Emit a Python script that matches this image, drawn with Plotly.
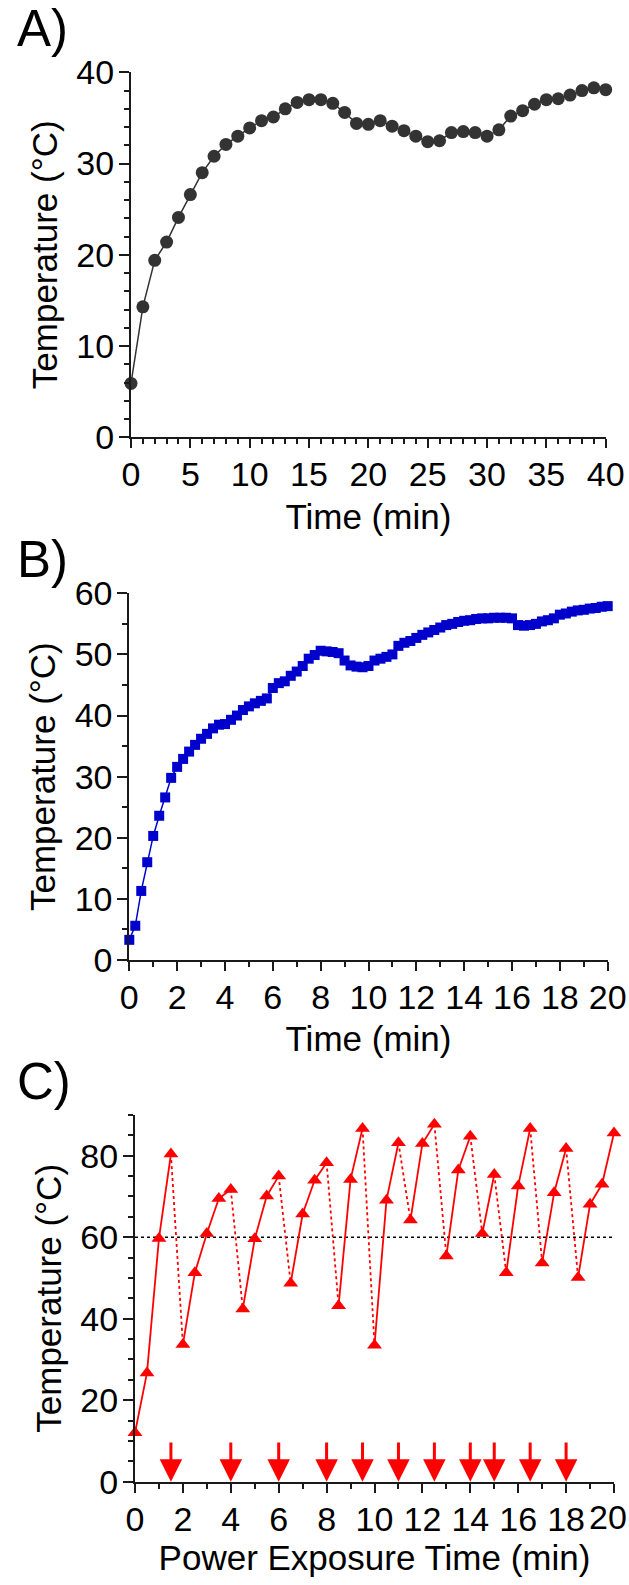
import plotly.graph_objects as go

# ---------------- Data ----------------
# Panel A: 1-min sampling, 0..40 min
a_time = list(range(0, 41))
a_temp = [5.9, 14.3, 19.4, 21.4, 24.1, 26.6, 29.0, 30.8, 32.1, 33.0,
          33.9, 34.7, 35.1, 36.0, 36.7, 37.0, 37.0, 36.6, 35.6, 34.4,
          34.3, 34.7, 34.1, 33.6, 33.0, 32.4, 32.5, 33.4, 33.5, 33.4,
          33.0, 33.7, 35.2, 35.8, 36.5, 37.0, 37.1, 37.5, 38.0, 38.3, 38.1]

# Panel B: 0.25-min sampling, 0..20 min
b_time = [i * 0.25 for i in range(81)]
b_temp = [3.3, 5.6, 11.3, 16.0, 20.3, 23.6, 26.6, 29.8, 31.6, 32.9,
          34.1, 35.2, 36.2, 37.0, 37.9, 38.5, 38.6, 39.3, 40.0, 40.9,
          41.5, 42.0, 42.4, 42.8, 44.5, 45.3, 45.6, 46.5, 47.2, 48.1,
          49.3, 49.9, 50.6, 50.5, 50.4, 50.2, 49.0, 48.2, 48.0, 47.9,
          48.1, 49.0, 49.3, 49.6, 50.0, 51.4, 51.9, 52.2, 52.7, 53.2,
          53.6, 54.0, 54.4, 54.8, 55.0, 55.3, 55.5, 55.6, 55.8, 55.9,
          55.9, 56.0, 56.0, 56.0, 55.9, 54.8, 54.7, 54.8, 55.0, 55.4,
          55.6, 55.9, 56.5, 56.7, 57.0, 57.2, 57.3, 57.5, 57.6, 57.8, 57.9]

# Panel C: 0.5-min sampling, 0..20 min
c_time = [i * 0.5 for i in range(41)]
c_temp = [12.0, 26.7, 59.7, 80.4, 33.7, 51.3, 60.9, 69.5, 71.7, 42.4,
          59.6, 70.1, 75.0, 48.7, 65.7, 74.0, 78.3, 43.2, 74.2, 86.7,
          33.5, 69.1, 83.2, 64.2, 83.0, 87.7, 55.4, 76.5, 84.8, 60.9,
          75.4, 51.3, 72.6, 86.7, 53.7, 70.9, 81.8, 50.1, 68.1, 73.0, 85.6]
power_off_times = [1.5, 4, 6, 8, 9.5, 11, 12.5, 14, 15, 16.5, 18]
threshold = 60
arrow_top = 10
c_xticks = [0, 2, 4, 6, 8, 10, 12, 14, 16, 18]
c_last_tick = 20

# ---------------- Styling ----------------
FONT = "Liberation Sans, Arial, sans-serif"
AX = "#1a1a1a"
W, H = 629, 1585
ML, MR = 129, 15
PW = W - ML - MR

def xd(px0, px1):
    return [(px0 - ML) / PW, (px1 - ML) / PW]

def yd(top_px, bot_px):
    return [1 - bot_px / H, 1 - top_px / H]

fig = go.Figure()

# Panel A
fig.add_trace(go.Scatter(x=a_time, y=a_temp, mode="lines+markers",
                         line=dict(color="#333333", width=1.5),
                         marker=dict(symbol="circle", size=13, color="#333333"),
                         cliponaxis=False, xaxis="x", yaxis="y", showlegend=False))

# Panel B
fig.add_trace(go.Scatter(x=b_time, y=b_temp, mode="lines+markers",
                         line=dict(color="#0000CC", width=1.5),
                         marker=dict(symbol="square", size=10, color="#0000CC"),
                         cliponaxis=False, xaxis="x2", yaxis="y2", showlegend=False))

# Panel C: threshold line
fig.add_trace(go.Scatter(x=[c_time[0], c_time[-1]], y=[threshold, threshold], mode="lines",
                         line=dict(color="black", width=1.5, dash="dot"),
                         xaxis="x3", yaxis="y3", showlegend=False, hoverinfo="skip"))

# Panel C: heating (solid) and cooling (dotted) segments
sx, sy, dx, dy = [], [], [], []
for i in range(len(c_time) - 1):
    if c_time[i] in power_off_times:
        dx += [c_time[i], c_time[i + 1], None]
        dy += [c_temp[i], c_temp[i + 1], None]
    else:
        sx += [c_time[i], c_time[i + 1], None]
        sy += [c_temp[i], c_temp[i + 1], None]
fig.add_trace(go.Scatter(x=sx, y=sy, mode="lines", line=dict(color="#FF0000", width=1.8),
                         xaxis="x3", yaxis="y3", showlegend=False, cliponaxis=False))
fig.add_trace(go.Scatter(x=dx, y=dy, mode="lines", line=dict(color="#FF0000", width=1.8, dash="dot"),
                         xaxis="x3", yaxis="y3", showlegend=False, cliponaxis=False))
fig.add_trace(go.Scatter(x=c_time, y=c_temp, mode="markers",
                         marker=dict(symbol="triangle-up", size=13, color="#FF0000"),
                         xaxis="x3", yaxis="y3", showlegend=False, cliponaxis=False))

# Panel C arrows (power off)
for t in power_off_times:
    fig.add_annotation(x=t, y=0, ax=t, ay=arrow_top, xref="x3", yref="y3",
                       axref="x3", ayref="y3", text="", showarrow=True,
                       arrowhead=2, arrowsize=1.5, arrowwidth=3, arrowcolor="#FF0000",
                       standoff=0, startstandoff=0)

tickfont = dict(family=FONT, size=34, color="black")
titlefont = dict(family=FONT, size=35, color="black")

def xaxis(rng, dtick, dom, anchor, title, standoff=12):
    return dict(domain=dom, anchor=anchor, range=rng, tickmode="linear", tick0=0, dtick=dtick,
                ticks="outside", ticklen=9, tickwidth=2, tickcolor=AX, automargin=False,
                showline=True, linecolor=AX, linewidth=2, showgrid=False, zeroline=False,
                minor=dict(dtick=dtick / (5 if dtick == 5 else 2), ticks="outside", ticklen=5,
                           tickwidth=1.5, tickcolor=AX, showgrid=False),
                tickfont=tickfont, ticklabelstandoff=-3, ticklabeloverflow="allow",
                title=dict(text=title, font=titlefont, standoff=standoff))

def yaxis(rng, dtick, minor, dom, anchor):
    return dict(domain=dom, anchor=anchor, range=rng, tickmode="linear", tick0=0, dtick=dtick,
                ticks="outside", ticklen=10, tickwidth=2, tickcolor=AX, automargin=False,
                showline=True, linecolor=AX, linewidth=2, showgrid=False, zeroline=False,
                minor=dict(dtick=minor, ticks="outside", ticklen=5, tickwidth=1.5,
                           tickcolor=AX, showgrid=False),
                tickfont=tickfont, ticklabelstandoff=-2, ticklabeloverflow="allow",
                title=dict(text="Temperature (°C)", font=titlefont, standoff=8))

x3 = xaxis([0, 20], 2, xd(135, 614), "y3", "Power Exposure Time (min)", standoff=3)
x3.update(tickmode="array", tickvals=c_xticks + [c_last_tick],
          ticktext=[str(v) for v in c_xticks] + [""])

fig.update_layout(
    width=W, height=H, margin=dict(l=ML, r=MR, t=0, b=0, autoexpand=False),
    paper_bgcolor="white", plot_bgcolor="white",
    font=dict(family=FONT, color="black"),
    xaxis=xaxis([0, 40], 5, xd(131, 605.7), "y", "Time (min)"),
    yaxis=yaxis([0, 40], 10, 2, yd(72.3, 437.3), "x"),
    xaxis2=xaxis([0, 20], 2, xd(129.3, 607.7), "y2", "Time (min)"),
    yaxis2=yaxis([0, 60], 10, 5, yd(593.3, 960), "x2"),
    xaxis3=x3,
    yaxis3=yaxis([0, 90], 20, 5, yd(1115, 1481.7), "x3"),
)
fig.update_yaxes(selector=dict(anchor="x3"), tickvals=[0, 20, 40, 60, 80], tickmode="array")

# last tick label of panel C kept inside the page
fig.add_annotation(text=str(c_last_tick), x=(628 - ML) / PW, y=1 - 1517 / H,
                   xref="paper", yref="paper", xanchor="right", yanchor="middle",
                   showarrow=False, font=tickfont, borderpad=0)

for lbl, cy in [("A)", 28), ("B)", 559), ("C)", 1081)]:
    fig.add_annotation(text=lbl, x=(15 - ML) / PW, y=1 - cy / H, xref="paper", yref="paper",
                       xanchor="left", yanchor="middle", showarrow=False,
                       font=dict(family=FONT, size=51, color="black"))

fig.write_html("out.html")
